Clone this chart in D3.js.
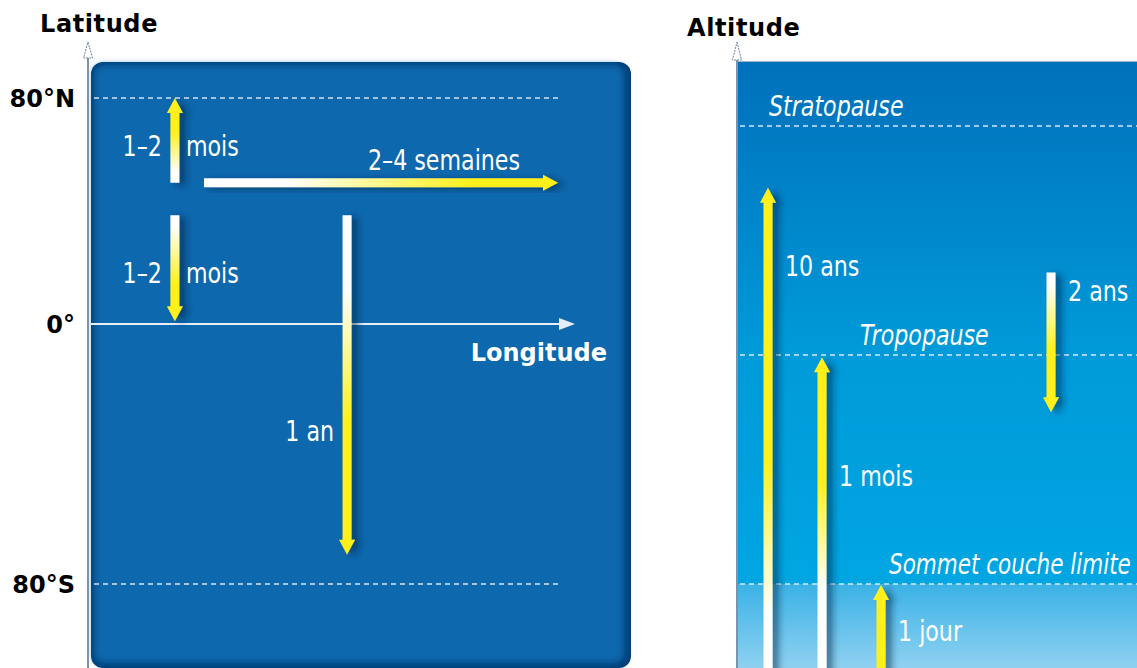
<!DOCTYPE html>
<html><head><meta charset="utf-8">
<script src="https://cdn.jsdelivr.net/npm/d3@7"></script>
<style>body{margin:0;background:#fff}svg{display:block}</style>
</head><body>
<svg id="c" width="1137" height="668"></svg>
<script>
// ================= DATA =================
// Left panel : latitude / longitude
const latTickValues = [80, 0, -80];
const latTickLabels = ["80°N", "0°", "80°S"];
const latDashed = [80, -80];

// meridional transport arrows (lon position, from lat -> to lat)
const merLabelsLeft  = ["1–2", "1–2", "1 an"];
const merLabelsRight = ["mois", "mois", ""];
const merLon   = [17.5, 17.5, 53];
const merFrom  = [50, 38.5, 38.5];
const merTo    = [80, 1, -71];
const merLabelLat = [63, 18, -33];

// zonal transport arrow (lat position, from lon -> to lon)
const zonLabels = ["2–4 semaines"];
const zonLat  = [50];
const zonFrom = [23.5];
const zonTo   = [96.5];
const zonLabelLat = [58];

// Right panel : altitude levels
const levelNames  = ["Sol", "Sommet couche limite", "Tropopause", "Stratopause"];
const levelValues = [0, 1, 2, 3];

// vertical transport arrows
const vertLabels = ["10 ans", "1 mois", "1 jour", "2 ans"];
const vertX      = [7.75, 21.25, 36, 78.5];
const vertFrom   = [0, 0, 0, 2.36];
const vertTo     = [2.73, 1.99, 0.99, 1.75];
const vertLabelLevel = [2.39, 1.47, 0.56, 2.28];

// ================= STYLE / LAYOUT =================
const W = 1137, H = 668;
const svg = d3.select("#c");
const defs = svg.append("defs");
const YEL = "#fff01e";
const labelFont = "'Liberation Sans Narrow','DejaVu Sans Condensed','Roboto',sans-serif";
const boldFont = "'DejaVu Sans',sans-serif";
const CONDENSE = 0.88;

// scales
const xL = d3.scaleLinear().domain([0, 100]).range([90, 575]);
const yL = d3.scaleLinear().domain([80, 0, -80]).range([98, 324, 584]);
const xR = d3.scaleLinear().domain([0, 100]).range([737, 1137]);
const yR = d3.scaleLinear().domain(levelValues).range([690, 584, 355, 126]);

// filters
const sh = defs.append("filter").attr("id", "shadow").attr("x", "-50%").attr("y", "-10%").attr("width", "300%").attr("height", "120%");
sh.append("feDropShadow").attr("dx", 6).attr("dy", 2).attr("stdDeviation", 3.5)
  .attr("flood-color", "#00223f").attr("flood-opacity", 0.55);
const blur = defs.append("filter").attr("id", "blur").attr("x", "-5%").attr("y", "-5%").attr("width", "110%").attr("height", "110%");
blur.append("feGaussianBlur").attr("stdDeviation", 3.5);

// gradient helper
let gid = 0;
function grad(x1, y1, x2, y2, stops) {
  const id = "g" + (gid++);
  const g = defs.append("linearGradient").attr("id", id).attr("gradientUnits", "userSpaceOnUse")
    .attr("x1", x1).attr("y1", y1).attr("x2", x2).attr("y2", y2);
  stops.forEach(s => g.append("stop").attr("offset", s[0]).attr("stop-color", s[1]));
  return "url(#" + id + ")";
}

// arrow path helper (shaft + head)
function arrowPath(x1, y1, x2, y2, w, hw, hl) {
  const dx = x2 - x1, dy = y2 - y1, L = Math.hypot(dx, dy);
  const ux = dx / L, uy = dy / L, px = -uy, py = ux;
  const bx = x2 - ux * hl, by = y2 - uy * hl;
  const p = d3.path();
  p.moveTo(x1 + px * w / 2, y1 + py * w / 2);
  p.lineTo(bx + px * w / 2, by + py * w / 2);
  p.lineTo(bx + px * hw / 2, by + py * hw / 2);
  p.lineTo(x2, y2);
  p.lineTo(bx - px * hw / 2, by - py * hw / 2);
  p.lineTo(bx - px * w / 2, by - py * w / 2);
  p.lineTo(x1 - px * w / 2, y1 - py * w / 2);
  p.closePath();
  return p.toString();
}

// condensed white label helper (horizontal squeeze, kept inside the picture)
function label(g, x, y, txt, anchor, italic) {
  const gg = g.append("g");
  const t = gg.append("text").attr("x", 0).attr("y", 0).attr("text-anchor", anchor || "start").text(txt)
    .attr("font-family", labelFont).attr("font-size", 28).attr("fill", "#fff")
    .attr("font-style", italic ? "italic" : "normal");
  const len = t.node().getComputedTextLength();
  let s = CONDENSE;
  if ((anchor || "start") === "start" && x + len * s > W - 6) s = (W - 6 - x) / len;
  gg.attr("transform", `translate(${x},${y}) scale(${s},1)`);
  return gg;
}

// ---------- LEFT PANEL ----------
const left = svg.append("g");
left.append("rect").attr("x", 91).attr("y", 62).attr("width", 540).attr("height", 606).attr("rx", 12)
  .attr("fill", "#003f78");
left.append("rect").attr("x", 94).attr("y", 65).attr("width", 530).attr("height", 598).attr("rx", 9)
  .attr("fill", "#0868ad").attr("filter", "url(#blur)");
left.append("line").attr("x1", 88).attr("x2", 88).attr("y1", 58).attr("y2", H)
  .attr("stroke", "#7e93a9").attr("stroke-width", 2);
left.append("path").attr("d", "M88,42 L92.5,58 L83.5,58 Z").attr("fill", "#fff")
  .attr("stroke", "#6f8298").attr("stroke-width", 1).attr("stroke-dasharray", "2,1");
left.append("text").attr("x", 40).attr("y", 32).text("Latitude")
  .attr("font-family", boldFont).attr("font-weight", "bold").attr("font-size", 24)
  .attr("letter-spacing", 0.6).attr("fill", "#000");

left.selectAll("text.lat").data(latTickValues).join("text").attr("class", "lat")
  .attr("x", 75).attr("y", d => yL(d) + 9).attr("text-anchor", "end")
  .attr("font-family", boldFont).attr("font-weight", "bold").attr("font-size", 24).attr("fill", "#000")
  .text((d, i) => latTickLabels[i]);

left.selectAll("line.dash").data(latDashed).join("line").attr("class", "dash")
  .attr("x1", 94).attr("x2", xL(96.5)).attr("y1", d => yL(d)).attr("y2", d => yL(d))
  .attr("stroke", "#e8f0f8").attr("stroke-width", 1.6).attr("stroke-dasharray", "5,4").attr("opacity", 0.9);

left.append("line").attr("x1", 91).attr("x2", xL(100) - 10).attr("y1", yL(0)).attr("y2", yL(0))
  .attr("stroke", "#e6eef6").attr("stroke-width", 2.2);
left.append("path").attr("d", `M${xL(100)},${yL(0)} L${xL(100) - 16},${yL(0) - 6} L${xL(100) - 16},${yL(0) + 6} Z`)
  .attr("fill", "#e6eef6");
left.append("text").attr("x", 607).attr("y", yL(0) + 37).attr("text-anchor", "end").text("Longitude")
  .attr("font-family", boldFont).attr("font-weight", "bold").attr("font-size", 24).attr("fill", "#fff");

const leftStops = [
  [[0, "#fff"], [0.12, "#fff"], [0.6, YEL], [1, YEL]],
  [[0, "#fff"], [0.1, "#fff"], [0.65, YEL], [1, YEL]],
  [[0, "#fff"], [0.22, "#fff"], [0.6, YEL], [1, YEL]]
];
merLon.forEach((lon, i) => {
  const x = xL(lon), y1 = yL(merFrom[i]), y2 = yL(merTo[i]);
  left.append("path").attr("d", arrowPath(x, y1, x, y2, 9, 16, 15))
    .attr("fill", grad(x, y1, x, y2, leftStops[i])).attr("filter", "url(#shadow)");
  const ly = yL(merLabelLat[i]) + 10;
  label(left, x - 13, ly, merLabelsLeft[i], "end");
  if (merLabelsRight[i]) label(left, x + 11, ly, merLabelsRight[i]);
});
zonLat.forEach((lat, i) => {
  const y = yL(lat), x1 = xL(zonFrom[i]), x2 = xL(zonTo[i]);
  left.append("path").attr("d", arrowPath(x1, y, x2, y, 9, 16, 15))
    .attr("fill", grad(x1, y, x2, y, [[0, "#fff"], [0.22, "#fff"], [0.75, YEL], [1, YEL]]))
    .attr("filter", "url(#shadow)");
  label(left, x2 - 38, yL(zonLabelLat[i]) + 10, zonLabels[i], "end");
});

// ---------- RIGHT PANEL ----------
const right = svg.append("g");
const topGrad = grad(0, 61, 0, 584, [[0, "#0070bb"], [0.55, "#009ad9"], [1, "#00a6e2"]]);
const lowGrad = grad(0, 584, 0, 668, [[0, "#3ab2e6"], [1, "#8fd1f1"]]);
right.append("rect").attr("x", 738).attr("y", 61).attr("width", W - 738).attr("height", 523).attr("fill", topGrad);
right.append("rect").attr("x", 738).attr("y", 584).attr("width", W - 738).attr("height", H - 584).attr("fill", lowGrad);
right.append("line").attr("x1", 738).attr("x2", W).attr("y1", 61.5).attr("y2", 61.5)
  .attr("stroke", "#9db3c6").attr("stroke-width", 1);
right.append("line").attr("x1", 737).attr("x2", 737).attr("y1", 58).attr("y2", H)
  .attr("stroke", "#7e93a9").attr("stroke-width", 2);
right.append("path").attr("d", "M737,42 L741.5,60 L732.5,60 Z").attr("fill", "#fff")
  .attr("stroke", "#6f8298").attr("stroke-width", 1).attr("stroke-dasharray", "2,1");
right.append("text").attr("x", 687).attr("y", 36).text("Altitude")
  .attr("font-family", boldFont).attr("font-weight", "bold").attr("font-size", 24)
  .attr("letter-spacing", 0.6).attr("fill", "#000");

const levelLabelX = [null, 38, 30.75, 8];
levelValues.filter(v => v > 0).forEach(v => {
  right.append("line").attr("x1", 740).attr("x2", W).attr("y1", yR(v)).attr("y2", yR(v))
    .attr("stroke", "#e8f4fb").attr("stroke-width", 1.6).attr("stroke-dasharray", "5,4").attr("opacity", 0.9);
  label(right, xR(levelLabelX[v]), yR(v) - 10, levelNames[v], "start", true);
});

const rightStops = [
  [[0, "#fff"], [0.15, "#fff"], [0.45, YEL], [1, YEL]],
  [[0, "#fff"], [0.3, "#fff"], [0.62, YEL], [1, YEL]],
  [[0, YEL], [1, YEL]],
  [[0, "#fff"], [0.08, "#fff"], [0.55, YEL], [1, YEL]]
];
vertX.forEach((vx, i) => {
  const x = xR(vx), y1 = yR(vertFrom[i]), y2 = yR(vertTo[i]);
  right.append("path").attr("d", arrowPath(x, y1, x, y2, 9, 16, 15))
    .attr("fill", grad(x, y1, x, y2, rightStops[i])).attr("filter", "url(#shadow)");
  label(right, x + 17, yR(vertLabelLevel[i]) + 10, vertLabels[i]);
});
</script>
</body></html>
